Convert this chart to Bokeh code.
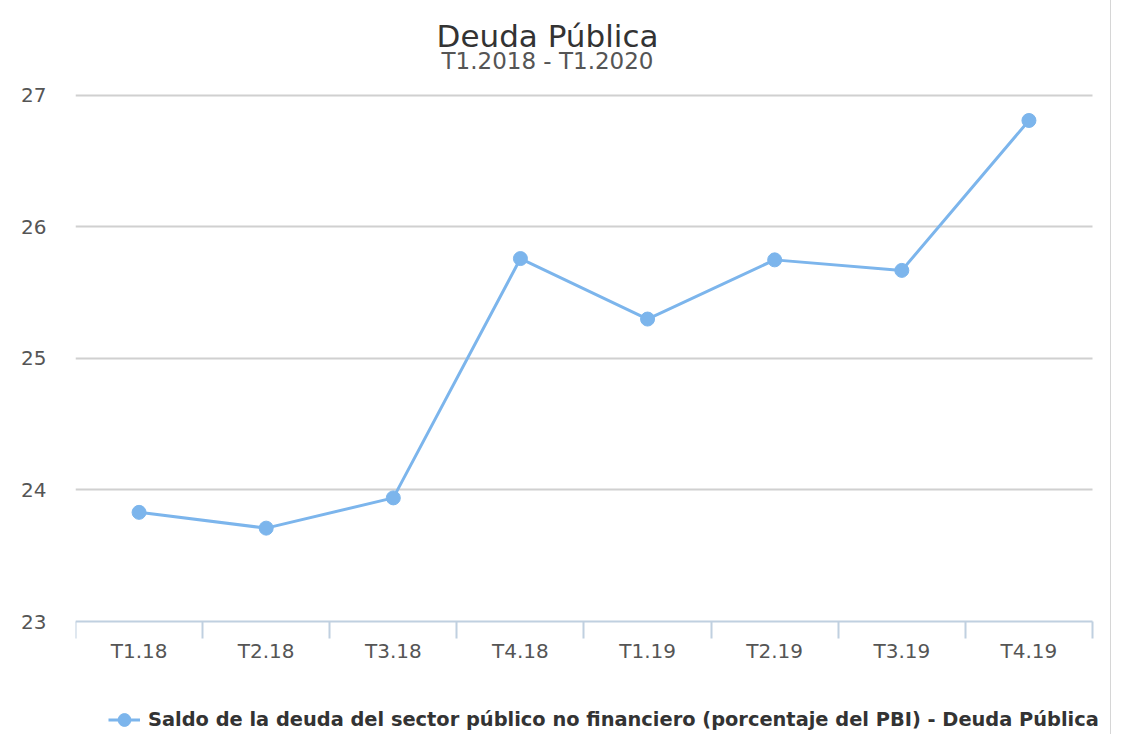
from bokeh.plotting import figure
from bokeh.models import FixedTicker, Legend, LegendItem, Label, Grid, ColumnDataSource
from bokeh.embed import file_html
from bokeh.resources import INLINE

categories = ["T1.18", "T2.18", "T3.18", "T4.18", "T1.19", "T2.19", "T3.19", "T4.19"]
values = [23.83, 23.71, 23.94, 25.76, 25.30, 25.75, 25.67, 26.81]
y_ticks = [23, 24, 25, 26, 27]
title_text = "Deuda Pública"
subtitle_text = "T1.2018 - T1.2020"
series_name = "Saldo de la deuda del sector público no financiero (porcentaje del PBI) - Deuda Pública"

FONT = "DejaVu Sans"
COLOR = "#7cb5ec"
AXIS_COLOR = "#c0d0e0"

n = len(categories)
xs = [i + 0.5 for i in range(n)]
src = ColumnDataSource(dict(x=xs, y=values, cat=categories))

# the frame fills the canvas right of the y labels; 23..27 spans y = 621..95 px
p = figure(width=1111, height=734, x_range=(0, 8.1416), y_range=(22.1407, 27.7224),
           output_backend="svg", toolbar_location=None,
           min_border_left=75, min_border_right=1, min_border_top=0, min_border_bottom=0)
p.styles = {"border-right": "1px solid #d6d6d6"}
p.outline_line_color = None
p.background_fill_color = "white"

# titles (centred over the chart, above the plotting area)
p.add_layout(Label(x=3.713, y=27.449, text=title_text, text_align="center",
                   text_baseline="middle", text_font=FONT, text_font_size="31px",
                   text_color="#333333"))
p.add_layout(Label(x=3.713, y=27.262, text=subtitle_text, text_align="center",
                   text_baseline="middle", text_font=FONT, text_font_size="23px",
                   text_color="#555555"))

line = p.line("x", "y", source=src, line_color=COLOR, line_width=3)
dots = p.scatter("x", "y", source=src, size=14, fill_color=COLOR, line_color=COLOR)

# x axis, drawn at y = 23
xa = p.xaxis[0]
xa.fixed_location = y_ticks[0]
xa.ticker = FixedTicker(ticks=xs, minor_ticks=list(range(n + 1)))
xa.major_label_overrides = {x: c for x, c in zip(xs, categories)}
xa.major_tick_line_color = None
xa.major_tick_out = 0
xa.major_tick_in = 0
xa.minor_tick_out = 17
xa.minor_tick_in = 0
xa.minor_tick_line_color = AXIS_COLOR
xa.minor_tick_line_width = 2
xa.axis_line_color = None
xa.major_label_text_font = FONT
xa.major_label_text_font_size = "20px"
xa.major_label_text_color = "#555555"
xa.major_label_standoff = 0

ya = p.yaxis[0]
ya.ticker = FixedTicker(ticks=y_ticks)
ya.axis_line_color = None
ya.major_tick_line_color = None
ya.minor_tick_line_color = None
ya.major_tick_out = 0
ya.major_tick_in = 0
ya.major_label_text_font = FONT
ya.major_label_text_font_size = "20px"
ya.major_label_text_color = "#555555"
ya.major_label_standoff = 29

p.xgrid.grid_line_color = None
p.ygrid.ticker = FixedTicker(ticks=y_ticks[1:])
p.ygrid.cross_bounds = (0, n)
p.ygrid.grid_line_color = "#d0d0d0"
p.ygrid.grid_line_width = 2

# x-axis baseline
base = Grid(dimension=1, ticker=FixedTicker(ticks=y_ticks[:1]), cross_bounds=(0, n),
            grid_line_color=AXIS_COLOR, grid_line_width=2)
p.add_layout(base)

legend = Legend(items=[LegendItem(label=series_name, renderers=[line, dots])],
                location=(33, -3), orientation="horizontal",
                label_text_font=FONT, label_text_font_size="19.4px", label_text_font_style="bold",
                label_text_color="#333333", glyph_width=32, glyph_height=35,
                label_standoff=8, padding=0, margin=0, border_line_color=None,
                background_fill_alpha=0)
p.add_layout(legend, "center")

open("out.html", "w").write(file_html(p, INLINE))
